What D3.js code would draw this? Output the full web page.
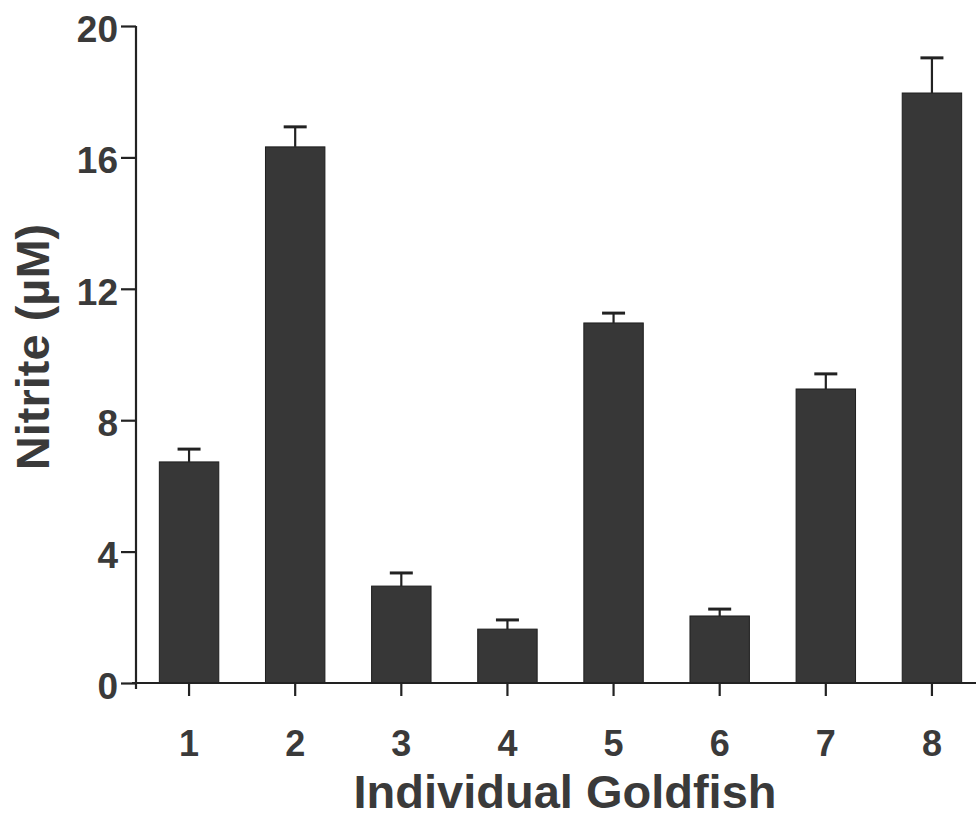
<!DOCTYPE html>
<html>
<head>
<meta charset="utf-8">
<script src="https://cdn.jsdelivr.net/npm/d3@7"></script>
<style>
  body { margin: 0; background: #fff; }
  .axis path, .axis line { stroke: #222; stroke-width: 2.2px; }
  .axis text { font-family: "Liberation Sans", Arial, sans-serif; font-weight: bold; fill: #3a3a3a; }
</style>
</head>
<body>
<svg id="svg_bar" width="976" height="818"></svg>
<script>
// Nitrite per fish, bar = mean, whisker = mean + SEM (upper only)
var fish = ["1", "2", "3", "4", "5", "6", "7", "8"];
var nitrite = [6.73, 16.32, 2.95, 1.64, 10.96, 2.04, 8.95, 17.96];
var errTop = [7.12, 16.93, 3.35, 1.92, 11.26, 2.25, 9.41, 19.03];
var yTicks = [0, 4, 8, 12, 16, 20];

var svg = d3.select("#svg_bar"),
    margin = {top: 26, right: 0, bottom: 135, left: 136},
    width = +svg.attr("width") - margin.left - margin.right,
    height = +svg.attr("height") - margin.top - margin.bottom,
    g = svg.append("g").attr("transform", "translate(" + margin.left + "," + margin.top + ")");

var data = fish.map(function(f, i) { return {fish: f, value: nitrite[i], top: errTop[i]}; });

// scales - band range runs a bit past the right edge like the original figure
var x = d3.scaleBand()
    .domain(fish)
    .range([0, 849])
    .paddingInner(0.44)
    .paddingOuter(0.22);

var y = d3.scaleLinear()
    .domain([0, 20])
    .range([height, 0]);

// bars
g.selectAll(".bar")
  .data(data)
  .enter().append("rect")
    .attr("class", "bar")
    .attr("x", function(d) { return x(d.fish); })
    .attr("y", function(d) { return y(d.value); })
    .attr("width", x.bandwidth())
    .attr("height", function(d) { return height - y(d.value); })
    .attr("fill", "#373737")
    .attr("stroke", "#1e1e1e")
    .attr("stroke-width", 1);

// error bars
var err = g.selectAll(".err")
  .data(data)
  .enter().append("g")
    .attr("class", "err")
    .attr("transform", function(d) { return "translate(" + (x(d.fish) + x.bandwidth() / 2) + ",0)"; });

err.append("line")
    .attr("y1", function(d) { return y(d.value); })
    .attr("y2", function(d) { return y(d.top); })
    .attr("stroke", "#222")
    .attr("stroke-width", 2.2);

err.append("line")
    .attr("x1", -11.5)
    .attr("x2", 11.5)
    .attr("y1", function(d) { return y(d.top); })
    .attr("y2", function(d) { return y(d.top); })
    .attr("stroke", "#222")
    .attr("stroke-width", 3);

// X axis
var xAxis = g.append("g")
    .attr("class", "axis")
    .attr("transform", "translate(0," + height + ")")
    .call(d3.axisBottom(x).tickSize(13).tickSizeOuter(0).tickPadding(34));
xAxis.select(".domain").attr("d", "M-4,0H" + width);
xAxis.selectAll("text").attr("font-size", "36px");

svg.append("text")
    .attr("x", 565)
    .attr("y", 808)
    .attr("text-anchor", "middle")
    .attr("font-family", '"Liberation Sans", Arial, sans-serif')
    .attr("font-weight", "bold")
    .attr("font-size", "47px")
    .attr("fill", "#3a3a3a")
    .text("Individual Goldfish");

// Y axis
var yAxis = g.append("g")
    .attr("class", "axis")
    .call(d3.axisLeft(y).tickValues(yTicks).tickSize(15).tickSizeOuter(0).tickPadding(3));
yAxis.select(".domain").attr("d", "M0,0V" + (height + 6));
yAxis.selectAll("text").attr("font-size", "37px").attr("dy", "0.42em");

svg.append("text")
    .attr("transform", "translate(49,347) rotate(-90)")
    .attr("text-anchor", "middle")
    .attr("font-family", '"Liberation Sans", Arial, sans-serif')
    .attr("font-weight", "bold")
    .attr("font-size", "47px")
    .attr("fill", "#3a3a3a")
    .text("Nitrite (\u00b5M)");
</script>
</body>
</html>
